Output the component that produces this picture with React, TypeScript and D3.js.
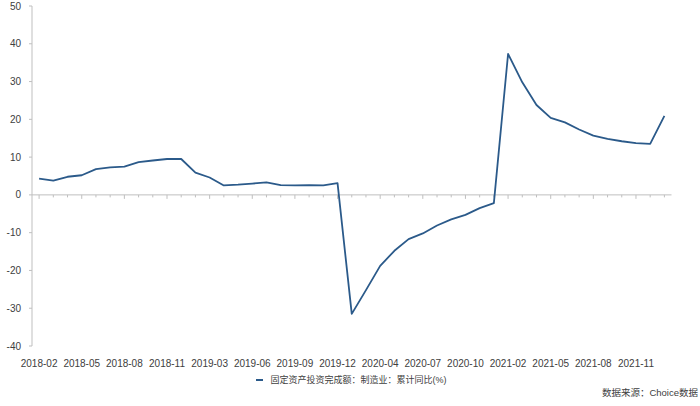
import React from "react";
import * as d3 from "d3";

const months: string[] = [
  "2018-02","2018-03","2018-04","2018-05","2018-06","2018-07","2018-08","2018-09","2018-10","2018-11","2018-12",
  "2019-02","2019-03","2019-04","2019-05","2019-06","2019-07","2019-08","2019-09","2019-10","2019-11","2019-12",
  "2020-02","2020-03","2020-04","2020-05","2020-06","2020-07","2020-08","2020-09","2020-10","2020-11","2020-12",
  "2021-02","2021-03","2021-04","2021-05","2021-06","2021-07","2021-08","2021-09","2021-10","2021-11","2021-12",
  "2022-02",
];

const values: number[] = [
  4.3, 3.8, 4.8, 5.2, 6.8, 7.3, 7.5, 8.7, 9.1, 9.5, 9.5,
  5.9, 4.6, 2.5, 2.7, 3.0, 3.3, 2.6, 2.5, 2.6, 2.5, 3.1,
  -31.5, -25.2, -18.8, -14.8, -11.7, -10.2, -8.1, -6.5, -5.3, -3.5, -2.2,
  37.3, 29.8, 23.8, 20.4, 19.2, 17.3, 15.7, 14.8, 14.2, 13.7, 13.5,
  20.9,
];

const labelMonths: string[] = [
  "2018-02","2018-05","2018-08","2018-11","2019-03","2019-06","2019-09","2019-12",
  "2020-04","2020-07","2020-10","2021-02","2021-05","2021-08","2021-11",
];

const yTicks: number[] = [50, 40, 30, 20, 10, 0, -10, -20, -30, -40];

const seriesName = "固定资产投资完成额：制造业：累计同比(%)";
const sourceText = "数据来源：Choice数据";

const W = 700, H = 406;
const left = 32, right = 671.5, top = 6, bottom = 346;
const FONT = "'Liberation Sans', 'Noto Sans CJK SC', sans-serif";
const LINE = "#2b5a8a";
const AXIS = "#bfbfbf";

export default function App() {
  const x = d3.scaleBand<string>().domain(months).range([left, right]).padding(0);
  const y = d3.scaleLinear().domain([-40, 50]).range([bottom, top]);
  const cx = (m: string) => (x(m) as number) + x.bandwidth() / 2;
  const line = d3.line<number>()
    .x((_, i) => cx(months[i]))
    .y((d) => y(d));
  const y0 = y(0);

  return (
    <svg width={W} height={H} style={{ position: "absolute", left: 0, top: 0, background: "#fff" }}>
      {/* y axis */}
      <line x1={left} x2={left} y1={top} y2={bottom} stroke={AXIS} strokeWidth={1} />
      {yTicks.map((t) => (
        <g key={t}>
          <line x1={left - 3} x2={left} y1={y(t)} y2={y(t)} stroke={AXIS} strokeWidth={1} />
          <text x={left - 11} y={y(t)} dy="0.35em" textAnchor="end" fontSize={10} fill="#404040" fontFamily={FONT}>
            {t}
          </text>
        </g>
      ))}
      {/* zero line with ticks */}
      <line x1={left} x2={right} y1={y0} y2={y0} stroke={AXIS} strokeWidth={1} />
      {months.map((m) => (
        <line key={m} x1={cx(m)} x2={cx(m)} y1={y0} y2={y0 + (labelMonths.includes(m) ? 4 : 2.5)} stroke={AXIS} strokeWidth={1} />
      ))}
      {/* x labels */}
      {labelMonths.map((m) => (
        <text key={m} x={cx(m)} y={363} dy="0.35em" textAnchor="middle" fontSize={10} fill="#404040" fontFamily={FONT}>
          {m}
        </text>
      ))}
      {/* series */}
      <path d={line(values) || ""} fill="none" stroke={LINE} strokeWidth={1.8} strokeLinejoin="round" />
      {/* legend */}
      <line x1={256} x2={263} y1={380} y2={380} stroke={LINE} strokeWidth={2} />
      <text x={270.5} y={380} dy="0.35em" fontSize={9} fill="#404040" fontFamily={FONT}>
        {seriesName}
      </text>
      {/* source */}
      <text x={698} y={393} dy="0.35em" textAnchor="end" fontSize={9.5} fill="#404040" fontFamily={FONT}>
        {sourceText}
      </text>
    </svg>
  );
}
